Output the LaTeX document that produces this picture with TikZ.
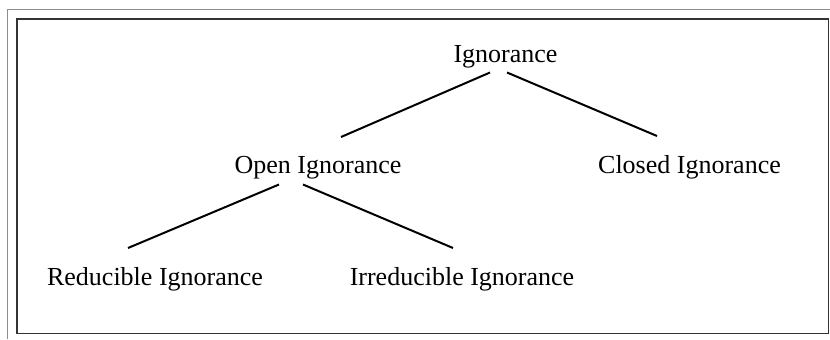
\documentclass[tikz,border=0pt]{standalone}
\usepackage{fontspec}
\setmainfont{Liberation Serif}
\tikzset{
  tree node/.style={
    anchor=base,
    inner sep=0pt,
    font=\fontsize{13}{15}\selectfont,
  },
  tree edge/.style={
    line width=1pt,
  },
}
\begin{document}
\begin{tikzpicture}[x=0.5pt, y=-0.5pt]
        \useasboundingbox (0,0) rectangle (830,339);
        % frame
        \draw[black!45, line width=0.5pt] (7,339) -- (7,9) -- (830,9);
        \draw[black!80, line width=0.75pt] (17,19) rectangle (828.5,333.5);

        \node[tree node] (ign)    at (505.5,62)  {Ignorance};
        \node[tree node] (open)   at (318,173)   {Open Ignorance};
        \node[tree node] (closed) at (689.5,173) {Closed Ignorance};
        \node[tree node] (red)    at (155,285)   {Reducible Ignorance};
        \node[tree node] (irr)    at (462,285)   {Irreducible Ignorance};

        \draw[tree edge] ([shift={(-15.5,10.5)}]ign.base) to ([shift={(23,-36)}]open.base);
        \draw[tree edge] ([shift={(1.5,10.5)}]ign.base) to ([shift={(-32.5,-37)}]closed.base);
        \draw[tree edge] ([shift={(-39,11.5)}]open.base) to ([shift={(-27,-37)}]red.base);
        \draw[tree edge] ([shift={(-15,11.5)}]open.base) to ([shift={(-9,-37)}]irr.base);
      \end{tikzpicture}
\end{document}
